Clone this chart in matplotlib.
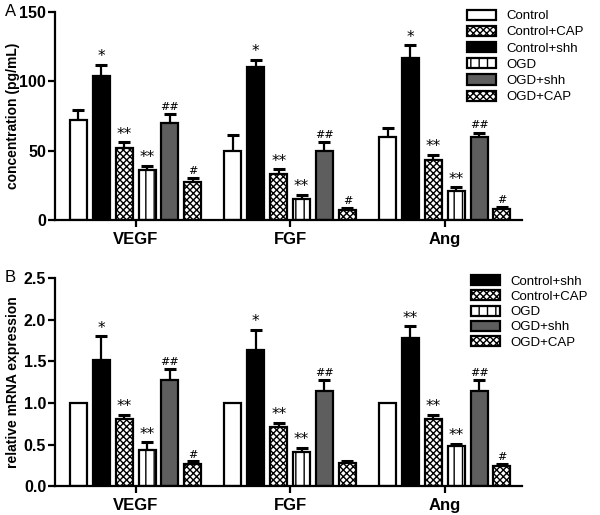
import matplotlib
matplotlib.use("Agg")
import matplotlib.pyplot as plt
import numpy as np

plt.rcParams['font.family'] = ['Liberation Sans', 'DejaVu Sans']
plt.rcParams['hatch.linewidth'] = 1.0

genes = ["VEGF", "FGF", "Ang"]
groups = ["Control", "Control+shh", "Control+CAP", "OGD", "OGD+shh", "OGD+CAP"]

# panel A: protein concentration (pg/mL), mean and upper error
conc_mean = {
    "Control":     [72, 50, 60],
    "Control+shh": [104, 110, 117],
    "Control+CAP": [52, 33, 43],
    "OGD":         [36, 15, 21],
    "OGD+shh":     [70, 50, 60],
    "OGD+CAP":     [27, 7, 8],
}
conc_err = {
    "Control":     [7, 11, 6],
    "Control+shh": [8, 5.5, 9],
    "Control+CAP": [4, 3.5, 4],
    "OGD":         [3, 3, 2.5],
    "OGD+shh":     [6, 6, 3],
    "OGD+CAP":     [3, 1.5, 1.5],
}
conc_marks = {
    "Control":     ["", "", ""],
    "Control+shh": ["*", "*", "*"],
    "Control+CAP": ["**", "**", "**"],
    "OGD":         ["**", "**", "**"],
    "OGD+shh":     ["##", "##", "##"],
    "OGD+CAP":     ["#", "#", "#"],
}

# panel B: relative mRNA expression
mrna_mean = {
    "Control":     [1.0, 1.0, 1.0],
    "Control+shh": [1.51, 1.64, 1.78],
    "Control+CAP": [0.81, 0.71, 0.81],
    "OGD":         [0.44, 0.41, 0.48],
    "OGD+shh":     [1.27, 1.14, 1.14],
    "OGD+CAP":     [0.27, 0.28, 0.24],
}
mrna_err = {
    "Control":     [0, 0, 0],
    "Control+shh": [0.29, 0.24, 0.14],
    "Control+CAP": [0.05, 0.05, 0.05],
    "OGD":         [0.09, 0.05, 0.03],
    "OGD+shh":     [0.14, 0.14, 0.14],
    "OGD+CAP":     [0.03, 0.02, 0.03],
}
mrna_marks = {
    "Control":     ["", "", ""],
    "Control+shh": ["*", "*", "**"],
    "Control+CAP": ["**", "**", "**"],
    "OGD":         ["**", "**", "**"],
    "OGD+shh":     ["##", "##", "##"],
    "OGD+CAP":     ["#", "", "#"],
}

styles = {
    "Control":     dict(facecolor="white", hatch=None),
    "Control+shh": dict(facecolor="black", hatch=None),
    "Control+CAP": dict(facecolor="white", hatch="xxxxx"),
    "OGD":         dict(facecolor="white", hatch="||"),
    "OGD+shh":     dict(facecolor="#5e5e5e", hatch=None),
    "OGD+CAP":     dict(facecolor="white", hatch="xxxxx"),
}

pitch = 0.148
width = 0.11


def draw_panel(ax, means, errs, marks, ylim, yticks, ylabel, fmt, pad):
    x = np.arange(len(genes))
    handles = {}
    for i, g in enumerate(groups):
        pos = x + (i - 2.5) * pitch
        st = styles[g]
        b = ax.bar(pos, means[g], width, facecolor=st["facecolor"], hatch=st["hatch"],
                   edgecolor="black", linewidth=1.6, zorder=2)
        handles[g] = b
        e = np.array(errs[g])
        if e.sum() > 0:
            ax.errorbar(pos, means[g], yerr=[np.zeros_like(e), e], fmt="none",
                        ecolor="black", elinewidth=1.6, capsize=4, capthick=2.2, zorder=1)
        for p, m, ee, t in zip(pos, means[g], e, marks[g]):
            if t:
                if "#" in t:
                    ax.text(p, m + ee + pad, t, ha="center", va="bottom", fontsize=8,
                            family="DejaVu Serif")
                else:
                    ax.text(p, m + ee + pad * 0.3, t, ha="center", va="bottom",
                            fontsize=11, family="DejaVu Sans")
    ax.set_xlim(-0.52, 2.5)
    ax.set_ylim(*ylim)
    ax.set_yticks(yticks)
    ax.set_yticklabels([fmt.format(v) for v in yticks], fontsize=11.5, fontweight="bold")
    ax.set_xticks(x)
    ax.set_xticklabels(genes, fontsize=12, fontweight="bold")
    ax.set_ylabel(ylabel, fontsize=10, fontweight="bold")
    ax.yaxis.set_label_coords(-0.075, 0.5)
    for s in ["top", "right"]:
        ax.spines[s].set_visible(False)
    for s in ["left", "bottom"]:
        ax.spines[s].set_linewidth(1.6)
    ax.tick_params(width=1.6, length=5)
    ax.tick_params(axis="y", pad=1.5)
    return handles


fig = plt.figure(figsize=(6, 5.15), dpi=100)
axA = fig.add_axes([0.092, 0.573, 0.778, 0.404])
axB = fig.add_axes([0.092, 0.056, 0.778, 0.404])

hA = draw_panel(axA, conc_mean, conc_err, conc_marks, (0, 150), [0, 50, 100, 150],
                "concentration (pg/mL)", "{:g}", 1.5)
hB = draw_panel(axB, mrna_mean, mrna_err, mrna_marks, (0, 2.5), [0.0, 0.5, 1.0, 1.5, 2.0, 2.5],
                "relative mRNA expression", "{:.1f}", 0.02)

orderA = ["Control", "Control+CAP", "Control+shh", "OGD", "OGD+shh", "OGD+CAP"]
axA.legend([hA[g] for g in orderA], orderA, loc="upper left", bbox_to_anchor=(0.87, 1.036),
           frameon=False, fontsize=9.5, handlelength=2.2, handleheight=0.8,
           labelspacing=0.27, handletextpad=0.8, borderaxespad=0)
orderB = ["Control+shh", "Control+CAP", "OGD", "OGD+shh", "OGD+CAP"]
axB.legend([hB[g] for g in orderB], orderB, loc="upper left", bbox_to_anchor=(0.88, 1.04),
           frameon=False, fontsize=9.5, handlelength=2.2, handleheight=0.8,
           labelspacing=0.2, handletextpad=0.8, borderaxespad=0)

fig.text(0.008, 0.977, "A", fontsize=12, va="center")
fig.text(0.008, 0.462, "B", fontsize=12, va="center")

fig.savefig("out.png", dpi=100)
